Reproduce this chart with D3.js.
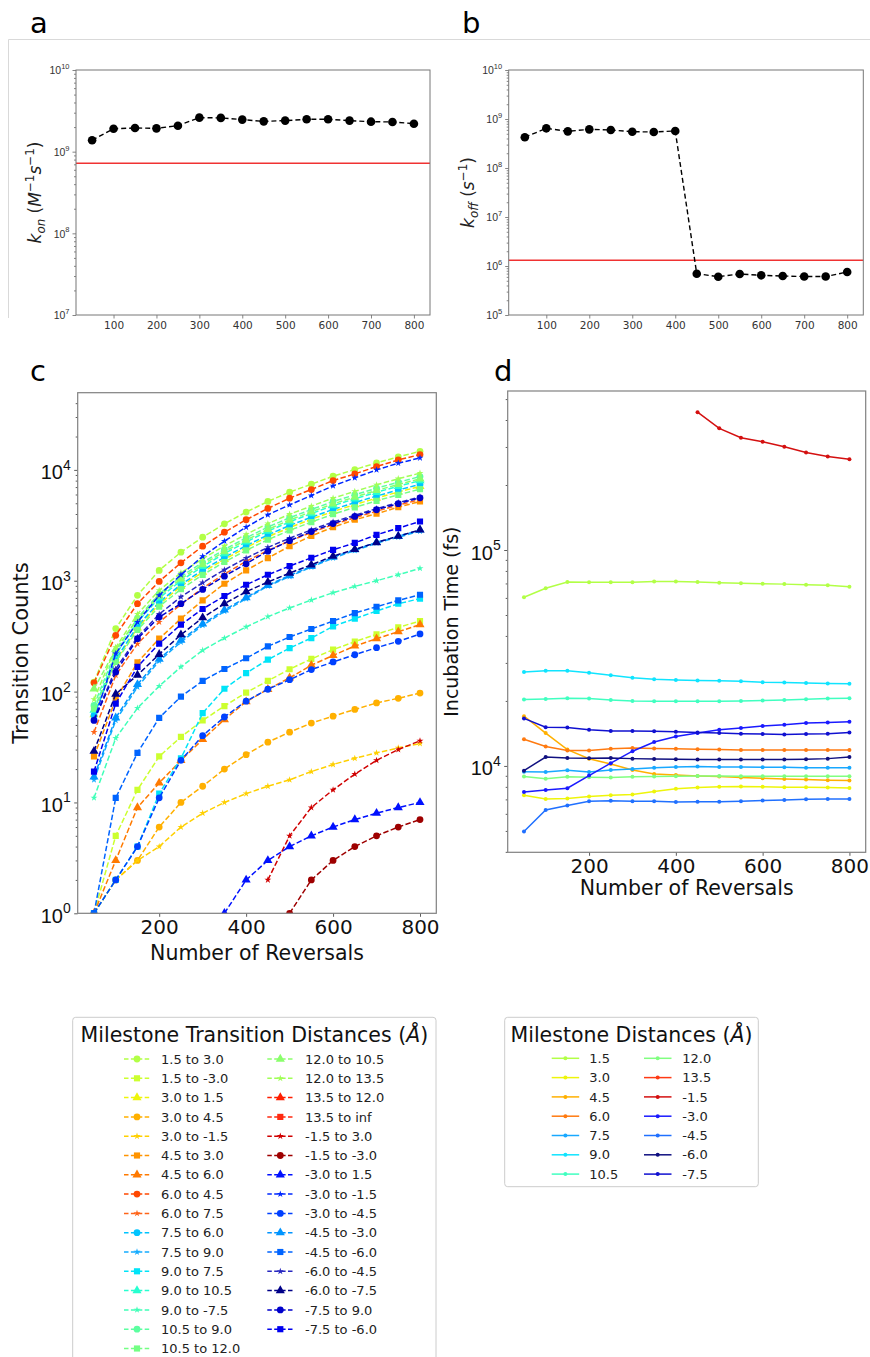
<!DOCTYPE html>
<html><head><meta charset="utf-8">
<script src="https://cdn.jsdelivr.net/npm/d3@7"></script>
<style>
body{margin:0;background:#fff;}
svg{display:block;font-family:"DejaVu Sans",sans-serif;}
</style></head><body>
<svg id="fig" width="870" height="1357"></svg>
<script>
// ---------------- data ----------------
const reversals = [50,100,150,200,250,300,350,400,450,500,550,600,650,700,750,800];
const xTicksAB = [100,200,300,400,500,600,700,800];
const xTicksCD = [200,400,600,800];

// panel a : k_on
const konValues = [1.38e9,1.91e9,1.95e9,1.93e9,2.08e9,2.61e9,2.59e9,2.47e9,2.35e9,2.40e9,2.49e9,2.49e9,2.40e9,2.33e9,2.31e9,2.20e9];
const konReference = 7.2e8;
// panel b : k_off
const koffValues = [4.23e8,6.45e8,5.6e8,6.15e8,5.97e8,5.5e8,5.43e8,5.69e8,6.97e5,6.05e5,6.87e5,6.45e5,6.25e5,6.1e5,6.1e5,7.55e5];
const koffReference = 1.31e6;

// panel c : transition counts
const cnt_1_5__3_0   = [122,370,738,1240,1810,2470,3260,4160,5190,6300,7430,8770,10070,11560,13100,14700];
const cnt_1_5__m3_0  = [1,5,13,26,39,55,74,98,125,159,197,239,282,329,380,433];
const cnt_3_0__1_5   = [62,190,375,615,890,1195,1560,1990,2490,3020,3590,4220,4860,5570,6320,7100];
const cnt_3_0__4_5   = [1,2,3,6,10,14,20,27,35,43,52,60,69,79,87,97];
const cnt_3_0__m1_5  = [1,2,3,4,6,8,10,12,14,16,19,22,25,28,31,34];
const cnt_4_5__3_0   = [26,85,184,300,455,665,940,1240,1600,2050,2540,3040,3550,4020,4610,5190];
const cnt_4_5__6_0   = [1,3,9,15,24,37,56,81,105,133,173,212,258,300,347,402];
const cnt_6_0__4_5   = [120,322,621,986,1450,2050,2740,3550,4490,5560,6650,8010,9200,10720,12300,13740];
const cnt_6_0__7_5   = [43,140,270,424,611,857,1150,1500,1880,2290,2720,3210,3700,4240,4810,5400];
const cnt_7_5__6_0   = [61,195,390,640,925,1245,1630,2070,2590,3150,3740,4400,5070,5810,6590,7400];
const cnt_7_5__9_0   = [16,55,110,189,280,396,529,689,895,1094,1327,1600,1875,2183,2472,2800];
const cnt_9_0__7_5   = [1,2,4,12,25,64,106,147,194,247,304,388,455,533,621,689];
const cnt_9_0__10_5  = [68,215,425,700,1000,1345,1760,2240,2800,3400,4040,4760,5480,6280,7120,8000];
const cnt_9_0__m7_5  = [11,38,71,112,167,236,304,383,474,568,670,780,889,1000,1133,1292];
const cnt_10_5__9_0  = [75,230,460,760,1090,1460,1910,2440,3050,3700,4390,5180,5960,6830,7740,8700];
const cnt_10_5__12_0 = [70,185,360,585,840,1130,1475,1880,2345,2850,3380,3985,4590,5260,5960,6700];
const cnt_12_0__10_5 = [106,240,450,730,1040,1400,1830,2330,2900,3530,4190,4940,5690,6520,7390,8300];
const cnt_12_0__13_5 = [85,250,500,820,1180,1580,2060,2620,3280,3980,4720,5560,6400,7340,8320,9350];
const cnt_13_5__12_0 = [null,null,null,null,null,null,null,null,null,null,null,null,null,null,null,null];
const cnt_13_5__inf  = [null,null,null,null,null,null,null,null,null,null,null,null,null,null,null,null];
const cnt_m1_5__3_0  = [null,null,null,null,null,null,null,null,2,5,9,13,18,24,30,36];
const cnt_m1_5__m3_0 = [null,null,null,null,null,null,null,null,null,1,2,3,4,5,6,7];
const cnt_m3_0__1_5  = [null,null,null,null,null,null,1,2,3,4,5,6,7,8,9,10];
const cnt_m3_0__m1_5 = [55,220,424,738,1133,1657,2277,3042,3935,4840,5870,7180,8470,10000,11490,12820];
const cnt_m3_0__m4_5 = [1,2,4,11,24,40,59,82,105,128,158,185,215,249,284,331];
const cnt_m4_5__m3_0 = [17,58,116,196,292,408,545,705,910,1115,1350,1630,1910,2220,2520,2870];
const cnt_m4_5__m6_0 = [1,11,28,58,90,125,160,200,256,311,367,433,511,583,665,748];
const cnt_m6_0__m4_5 = [56,160,310,500,715,960,1255,1600,2000,2420,2880,3390,3900,4470,5070,5700];
const cnt_m6_0__m7_5 = [29,95,141,217,326,464,621,796,973,1172,1393,1667,1915,2213,2524,2880];
const cnt_m7_5__9_0  = [55,150,300,470,621,834,1100,1422,1850,2300,2780,3280,3800,4370,4960,5600];
const cnt_m7_5__m6_0 = [19,78,167,271,402,556,728,920,1133,1356,1611,1901,2196,2596,2980,3426];

const transitionNames = ["1.5 to 3.0","1.5 to -3.0","3.0 to 1.5","3.0 to 4.5","3.0 to -1.5","4.5 to 3.0","4.5 to 6.0","6.0 to 4.5","6.0 to 7.5","7.5 to 6.0","7.5 to 9.0","9.0 to 7.5","9.0 to 10.5","9.0 to -7.5","10.5 to 9.0","10.5 to 12.0","12.0 to 10.5","12.0 to 13.5","13.5 to 12.0","13.5 to inf","-1.5 to 3.0","-1.5 to -3.0","-3.0 to 1.5","-3.0 to -1.5","-3.0 to -4.5","-4.5 to -3.0","-4.5 to -6.0","-6.0 to -4.5","-6.0 to -7.5","-7.5 to 9.0","-7.5 to -6.0"];
const transitionCounts = [cnt_1_5__3_0,cnt_1_5__m3_0,cnt_3_0__1_5,cnt_3_0__4_5,cnt_3_0__m1_5,cnt_4_5__3_0,cnt_4_5__6_0,cnt_6_0__4_5,cnt_6_0__7_5,cnt_7_5__6_0,cnt_7_5__9_0,cnt_9_0__7_5,cnt_9_0__10_5,cnt_9_0__m7_5,cnt_10_5__9_0,cnt_10_5__12_0,cnt_12_0__10_5,cnt_12_0__13_5,cnt_13_5__12_0,cnt_13_5__inf,cnt_m1_5__3_0,cnt_m1_5__m3_0,cnt_m3_0__1_5,cnt_m3_0__m1_5,cnt_m3_0__m4_5,cnt_m4_5__m3_0,cnt_m4_5__m6_0,cnt_m6_0__m4_5,cnt_m6_0__m7_5,cnt_m7_5__9_0,cnt_m7_5__m6_0];
const transitionColors = ["#b2ff46","#ccff2f","#eef50a","#ffb000","#ffd000","#ff9400","#ff7a00","#ff4800","#ff6418","#00c4ff","#14acff","#00e4f8","#26ffd0","#40ffb8","#5cffa0","#73ff84","#8aff6c","#a0ff56","#ff1e00","#ff2a10","#d00000","#9e0000","#0010ff","#0028ff","#0040ff","#0094ff","#0064ff","#2828c0","#000088","#0000cc","#0000f0"];
const transitionMarkers = ["circle","square","triangle","circle","star","square","triangle","circle","star","circle","star","square","triangle","star","circle","square","triangle","star","triangle","square","star","circle","triangle","star","circle","triangle","square","star","triangle","circle","square"];

// panel d : incubation times (fs)
const inc_1_5  = [60400,66500,71100,70900,70900,70900,71400,71400,71100,70600,70100,69700,69500,69000,68700,67600];
const inc_3_0  = [7310,7030,7060,7210,7310,7370,7610,7830,7940,8000,8030,8000,7970,7970,7940,7910];
const inc_4_5  = [17000,14200,11900,10800,10200,9580,9180,9080,8990,8930,8830,8770,8710,8650,8590,8560];
const inc_6_0  = [13300,12300,11800,11780,12000,12100,12050,12000,11950,11900,11860,11860,11860,11860,11860,11860];
const inc_7_5  = [9410,9380,9550,9380,9580,9680,9820,9890,9930,9890,9890,9860,9860,9820,9820,9820];
const inc_9_0  = [27200,27600,27600,27000,26300,25600,25200,25000,24900,24800,24700,24400,24350,24200,24100,24000];
const inc_10_5 = [20300,20400,20600,20500,20200,20000,19950,19950,19950,19950,20000,20100,20200,20350,20500,20600];
const inc_12_0 = [8930,8730,8900,8870,8830,8900,8930,8960,8990,8990,8960,8960,8960,8960,8960,8960];
const inc_13_5 = [null,null,null,null,null,null,null,null,null,null,null,null,null,null,null,null];
const inc_m1_5 = [null,null,null,null,null,null,null,null,435000,366000,331000,317000,301000,283000,271000,263000];
const inc_m3_0 = [7580,7740,7880,9020,10300,11700,12900,13700,14200,14700,15000,15300,15500,15800,15900,16000];
const inc_m4_5 = [4970,6250,6550,6860,6890,6860,6860,6810,6830,6830,6860,6920,6960,7010,7030,7030];
const inc_m6_0 = [9510,11000,10890,10850,10890,10810,10770,10740,10700,10700,10700,10700,10700,10740,10810,11000];
const inc_m7_5 = [16600,15100,15050,14700,14500,14500,14470,14400,14300,14200,14100,14050,14000,14050,14100,14300];

const milestoneNames = ["1.5","3.0","4.5","6.0","7.5","9.0","10.5","12.0","13.5","-1.5","-3.0","-4.5","-6.0","-7.5"];
const incubationTimes = [inc_1_5,inc_3_0,inc_4_5,inc_6_0,inc_7_5,inc_9_0,inc_10_5,inc_12_0,inc_13_5,inc_m1_5,inc_m3_0,inc_m4_5,inc_m6_0,inc_m7_5];
const milestoneColors = ["#b2ff46","#eef50a","#ffb000","#ff7a10","#18a8ff","#10e4ff","#40ffc0","#80ff80","#ff3a14","#d41010","#1a1aff","#2070ff","#101080","#1010d0"];

// ---------------- drawing ----------------
const svg = d3.select('#fig');
svg.append('rect').attr('width',870).attr('height',1357).attr('fill','#fff');
const xDomain = [12.5, 837.5];

function symbolType(name){
  return {circle:d3.symbolCircle, square:d3.symbolSquare, triangle:d3.symbolTriangle, star:d3.symbolStar}[name];
}
function symbolSize(name){ return {circle:36, square:38, triangle:36, star:15}[name]; }

function richText(t, parts, base){
  let cur = 0;
  parts.forEach(p => {
    const target = p.shift === 'sup' ? -0.42*base : (p.shift === 'sub' ? 0.22*base : 0);
    const ts = t.append('tspan').text(p.text).attr('dy', target - cur);
    cur = target;
    if (p.italic) ts.attr('font-style','italic');
    if (p.shift) ts.attr('font-size', base*0.7);
  });
}

function logYAxis(g, y, left, opt){
  const all = y.ticks();
  const majors = all.filter(v => Math.abs(Math.log10(v) - Math.round(Math.log10(v))) < 1e-9);
  const minors = all.filter(v => majors.indexOf(v) < 0);
  const gm = g.append('g').attr('transform',`translate(${left},0)`)
    .call(d3.axisLeft(y).tickValues(minors).tickSize(opt.minorLen).tickFormat(''));
  const gM = g.append('g').attr('transform',`translate(${left},0)`)
    .call(d3.axisLeft(y).tickValues(majors).tickSize(opt.majorLen).tickFormat(''));
  [gm,gM].forEach(a => { a.select('.domain').remove(); a.selectAll('line').attr('stroke',opt.tickColor).attr('stroke-width',opt.tickWidth); });
  gM.selectAll('.tick').each(function(d){
    const t = d3.select(this).append('text')
      .attr('x', -(opt.majorLen + opt.pad)).attr('y', opt.yOff || 0).attr('dy','0.35em')
      .attr('text-anchor','end').attr('fill',opt.color).attr('font-size',opt.size);
    t.append('tspan').text('10');
    t.append('tspan').attr('font-size',opt.supSize).attr('dy',-opt.size*0.48).text(Math.round(Math.log10(d)));
  });
}

function xAxis(g, x, bottom, ticks, opt){
  const a = g.append('g').attr('transform',`translate(0,${bottom})`)
    .call(d3.axisBottom(x).tickValues(ticks).tickSize(opt.majorLen).tickPadding(opt.pad));
  a.select('.domain').remove();
  a.selectAll('line').attr('stroke',opt.tickColor).attr('stroke-width',opt.tickWidth);
  a.selectAll('text').attr('font-size',opt.size).attr('fill',opt.color).attr('font-family','"DejaVu Sans"');
  return a;
}

function frame(box, color, w){
  svg.append('rect').attr('x',box.l).attr('y',box.t).attr('width',box.r-box.l).attr('height',box.b-box.t)
    .attr('fill','none').attr('stroke',color).attr('stroke-width',w);
}

[['a',30,33],['b',462,33],['c',30,381],['d',494,381]].forEach(([s,x,y]) =>
  svg.append('text').attr('x',x).attr('y',y).attr('font-size',29).attr('fill','#000').text(s));

svg.append('path').attr('d','M8.5,318 V39.5 H870').attr('fill','none').attr('stroke','#d9d9d9').attr('stroke-width',1);

// ---- panels a & b ----
function ratePanel(box, values, ref, yDomain, labelParts, labelX){
  const x = d3.scaleLinear().domain(xDomain).range([box.l, box.r]);
  const y = d3.scaleLog().domain(yDomain).range([box.b, box.t]);
  const g = svg.append('g');
  logYAxis(g, y, box.l, {minorLen:2, majorLen:3.5, pad:3, tickColor:'#666', tickWidth:0.8, color:'#333', size:10.5, supSize:7.5});
  xAxis(g, x, box.b, xTicksAB, {majorLen:3.5, pad:3, tickColor:'#666', tickWidth:0.8, color:'#333', size:10.5});
  g.append('line').attr('x1',box.l).attr('x2',box.r).attr('y1',y(ref)).attr('y2',y(ref))
    .attr('stroke','#f03232').attr('stroke-width',1.5);
  const line = d3.line().x((d,i)=>x(reversals[i])).y(d=>y(d));
  g.append('path').datum(values).attr('d',line).attr('fill','none').attr('stroke','#000')
    .attr('stroke-width',1.4).attr('stroke-dasharray','5,3');
  g.selectAll('circle.pt').data(values).join('circle').attr('class','pt')
    .attr('cx',(d,i)=>x(reversals[i])).attr('cy',d=>y(d)).attr('r',4.3).attr('fill','#000');
  frame(box,'#777',1);
  const t = g.append('text').attr('transform',`translate(${labelX},${(box.t+box.b)/2}) rotate(-90)`)
    .attr('text-anchor','middle').attr('font-size',17).attr('fill','#222');
  richText(t, labelParts, 17);
}
ratePanel({l:76,r:430,t:70,b:315}, konValues, konReference, [1e7,1e10],
  [{text:'k',italic:true},{text:'on',italic:true,shift:'sub'},{text:' ('},{text:'M',italic:true},{text:'−1',shift:'sup'},{text:'s',italic:true},{text:'−1',shift:'sup'},{text:')'}], 41);
ratePanel({l:508.7,r:863.3,t:70,b:315}, koffValues, koffReference, [1e5,1e10],
  [{text:'k',italic:true},{text:'off',italic:true,shift:'sub'},{text:' ('},{text:'s',italic:true},{text:'−1',shift:'sup'},{text:')'}], 474);

// ---- panel c ----
(function(){
  const box = {l:77.7, r:436.3, t:392.7, b:913.3};
  const x = d3.scaleLinear().domain(xDomain).range([box.l, box.r]);
  const y = d3.scaleLog().domain([1, 4.97e4]).range([box.b, box.t]);
  const g = svg.append('g');
  svg.append('clipPath').attr('id','clipC').append('rect')
    .attr('x',box.l).attr('y',box.t).attr('width',box.r-box.l).attr('height',box.b-box.t);
  const plot = g.append('g').attr('clip-path','url(#clipC)');
  const line = d3.line().defined(d=>d!=null).x((d,i)=>x(reversals[i])).y(d=>y(d));
  transitionCounts.forEach((vals,k) => {
    const s = plot.append('g');
    s.append('path').datum(vals).attr('d',line).attr('fill','none').attr('stroke',transitionColors[k])
      .attr('stroke-width',1.5).attr('stroke-dasharray','5.5,2.4');
    const sym = d3.symbol().type(symbolType(transitionMarkers[k])).size(symbolSize(transitionMarkers[k]));
    s.selectAll('path.m').data(vals.map((v,i)=>({v,i})).filter(d=>d.v!=null)).join('path').attr('class','m')
      .attr('d',sym).attr('transform',d=>`translate(${x(reversals[d.i])},${y(d.v)})`)
      .attr('fill',transitionColors[k]);
  });
  logYAxis(g, y, box.l, {minorLen:2, majorLen:3.5, pad:3.5, tickColor:'#333', tickWidth:0.8, color:'#111', size:20, supSize:14, yOff:2});
  xAxis(g, x, box.b, xTicksCD, {majorLen:3.5, pad:3.5, tickColor:'#333', tickWidth:0.8, color:'#111', size:20});
  frame(box,'#808080',1.2);
  g.append('text').attr('x',(box.l+box.r)/2).attr('y',960).attr('text-anchor','middle')
    .attr('font-size',20.5).attr('fill','#111').text('Number of Reversals');
  g.append('text').attr('transform',`translate(28,${(box.t+box.b)/2}) rotate(-90)`).attr('text-anchor','middle')
    .attr('font-size',21).attr('fill','#111').text('Transition Counts');
})();

// ---- panel d ----
(function(){
  const box = {l:507.7, r:865.7, t:391, b:852.3};
  const x = d3.scaleLinear().domain(xDomain).range([box.l, box.r]);
  const y = d3.scaleLog().domain([3981, 5.45e5]).range([box.b, box.t]);
  const g = svg.append('g');
  const line = d3.line().defined(d=>d!=null).x((d,i)=>x(reversals[i])).y(d=>y(d));
  incubationTimes.forEach((vals,k) => {
    const s = g.append('g');
    s.append('path').datum(vals).attr('d',line).attr('fill','none').attr('stroke',milestoneColors[k]).attr('stroke-width',1.5);
    s.selectAll('circle').data(vals.map((v,i)=>({v,i})).filter(d=>d.v!=null)).join('circle')
      .attr('cx',d=>x(reversals[d.i])).attr('cy',d=>y(d.v)).attr('r',2).attr('fill',milestoneColors[k]);
  });
  logYAxis(g, y, box.l, {minorLen:2, majorLen:3.5, pad:3.5, tickColor:'#333', tickWidth:0.8, color:'#111', size:20, supSize:14, yOff:2});
  xAxis(g, x, box.b, xTicksCD, {majorLen:3.5, pad:3.5, tickColor:'#333', tickWidth:0.8, color:'#111', size:20});
  frame(box,'#808080',1.2);
  g.append('text').attr('x',(box.l+box.r)/2).attr('y',895).attr('text-anchor','middle')
    .attr('font-size',20.5).attr('fill','#111').text('Number of Reversals');
  g.append('text').attr('transform',`translate(458,${(box.t+box.b)/2}) rotate(-90)`).attr('text-anchor','middle')
    .attr('font-size',19).attr('fill','#111').text('Incubation Time (fs)');
})();

// ---- legends ----
function legendBox(l,t,r,b){
  svg.append('rect').attr('x',l).attr('y',t).attr('width',r-l).attr('height',b-t).attr('rx',3)
    .attr('fill','#fff').attr('stroke','#cccccc').attr('stroke-width',1);
}
function legendTitle(cx, y, txt){
  const t = svg.append('text').attr('x',cx).attr('y',y).attr('text-anchor','middle').attr('font-size',20.5).attr('fill','#111');
  t.append('tspan').text(txt + ' (');
  t.append('tspan').attr('font-style','italic').text('Å');
  t.append('tspan').text(')');
}
legendBox(72.7,1017.3,436,1370);
legendTitle(254.4,1042.3,'Milestone Transition Distances');
transitionNames.forEach((name,k) => {
  const col = k < 16 ? 0 : 1, row = k < 16 ? k : k-16;
  const hx = col ? 267.3 : 124, tx = col ? 305 : 161, yy = 1059 + row*19.3;
  svg.append('line').attr('x1',hx).attr('x2',hx+26).attr('y1',yy).attr('y2',yy)
    .attr('stroke',transitionColors[k]).attr('stroke-width',1.5).attr('stroke-dasharray','4.5,2.4');
  svg.append('path').attr('d',d3.symbol().type(symbolType(transitionMarkers[k])).size(symbolSize(transitionMarkers[k]))())
    .attr('transform',`translate(${hx+13},${yy})`).attr('fill',transitionColors[k]);
  svg.append('text').attr('x',tx).attr('y',yy).attr('dy','0.36em').attr('font-size',13).attr('fill','#222').text(name);
});
legendBox(504.7,1017.3,758.3,1186.7);
legendTitle(631.5,1042.3,'Milestone Distances');
milestoneNames.forEach((name,k) => {
  const col = k < 7 ? 0 : 1, row = k < 7 ? k : k-7;
  const hx = col ? 644 : 551.7, tx = col ? 682.3 : 589.3, yy = 1058.3 + row*19.3;
  svg.append('line').attr('x1',hx).attr('x2',hx+27.5).attr('y1',yy).attr('y2',yy)
    .attr('stroke',milestoneColors[k]).attr('stroke-width',1.5);
  svg.append('circle').attr('cx',hx+13.7).attr('cy',yy).attr('r',2).attr('fill',milestoneColors[k]);
  svg.append('text').attr('x',tx).attr('y',yy).attr('dy','0.36em').attr('font-size',13).attr('fill','#222').text(name);
});
</script>
</body></html>
